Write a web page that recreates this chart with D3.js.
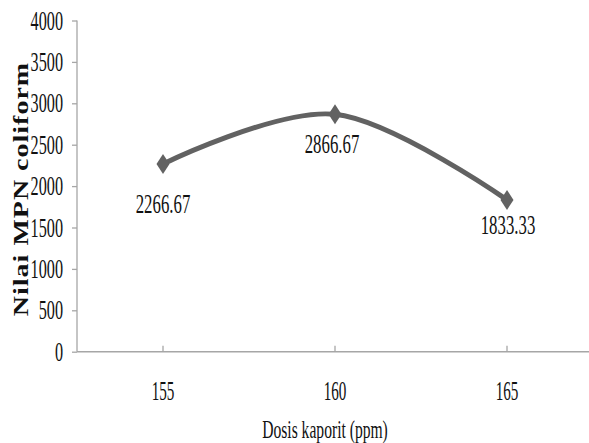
<!DOCTYPE html>
<html>
<head>
<meta charset="utf-8">
<script src="https://cdn.jsdelivr.net/npm/d3@7"></script>
<style>
  html, body { margin: 0; padding: 0; background: #fff; }
  svg { display: block; }
  text { font-family: "Liberation Serif", "Times New Roman", serif; fill: #111; }
</style>
</head>
<body>
<script>
// Chlorine dose (ppm) versus MPN coliform count
const doses = ["155", "160", "165"];
const mpnValues = [2266.67, 2866.67, 1833.33];
const yTickValues = [0, 500, 1000, 1500, 2000, 2500, 3000, 3500, 4000];
const xTitle = "Dosis kaporit (ppm)";
const yTitle = "Nilai MPN coliform";

const W = 589, H = 443;
const svg = d3.select("body").append("svg").attr("width", W).attr("height", H);

const plot = { left: 77, top: 20.5, bottom: 351.7, right: 593 };
const squeeze = 0.6;   // narrow, condensed lettering

const x = d3.scaleBand().domain(doses).range([plot.left, plot.right]).padding(0);
const xc = d => x(d) + x.bandwidth() / 2;
const y = d3.scaleLinear().domain([0, 4000]).range([plot.bottom, plot.top]);

const axisColor = "#a6a6a6";

// Y axis: line with outward ticks
const yAxis = svg.append("g").attr("transform", `translate(${plot.left},0)`)
  .call(d3.axisLeft(y).tickValues(yTickValues).tickSize(5).tickFormat(""));
yAxis.select(".domain").attr("stroke", axisColor).attr("stroke-width", 1.3).attr("d", `M0,${plot.top}V${plot.bottom}`);
yAxis.selectAll(".tick line").attr("stroke", axisColor).attr("stroke-width", 1.3);

// Y tick labels
svg.append("g").selectAll("text").data(yTickValues).join("text")
  .attr("transform", d => `translate(63,${y(d) + 9}) scale(${squeeze},1)`)
  .attr("text-anchor", "end")
  .style("font-size", "27px")
  .text(d => d);

// X axis: line with inward ticks at category centres
const xAxis = svg.append("g").attr("transform", `translate(0,${plot.bottom})`);
xAxis.append("line").attr("x1", plot.left).attr("x2", W).attr("y1", 0).attr("y2", 0)
  .attr("stroke", axisColor).attr("stroke-width", 1.5);
xAxis.selectAll("line.tick").data(doses).join("line").attr("class", "tick")
  .attr("x1", d => xc(d)).attr("x2", d => xc(d)).attr("y1", 0).attr("y2", -6)
  .attr("stroke", axisColor).attr("stroke-width", 1.3);

svg.append("g").selectAll("text").data(doses).join("text")
  .attr("transform", d => `translate(${xc(d)},${plot.bottom + 48}) scale(0.56,1)`)
  .attr("text-anchor", "middle")
  .style("font-size", "27px")
  .text(d => d);

// Axis titles
svg.append("text")
  .attr("transform", `translate(325,438) scale(${squeeze},1)`)
  .attr("text-anchor", "middle")
  .style("font-size", "26px")
  .text(xTitle);

svg.append("text")
  .attr("transform", `translate(28,189) scale(0.74,1) rotate(-90)`)
  .attr("text-anchor", "middle")
  .style("font-size", "28px")
  .style("font-weight", "bold")
  .style("letter-spacing", "1px")
  .text(yTitle);

// Smoothed line
const pts = doses.map((d, i) => [xc(d), y(mpnValues[i])]);
const line = d3.line().curve(d3.curveCatmullRom.alpha(0));
svg.append("path").attr("d", line(pts))
  .attr("fill", "none").attr("stroke", "#626262").attr("stroke-width", 5)
  .attr("stroke-linecap", "round");

// Diamond markers
svg.append("g").selectAll("path").data(pts).join("path")
  .attr("d", p => `M${p[0]},${p[1] - 10}L${p[0] + 6.5},${p[1]}L${p[0]},${p[1] + 10}L${p[0] - 6.5},${p[1]}Z`)
  .attr("fill", "#626262");

// Value labels below each point (small per-label nudges)
const labelNudge = [[0, 8], [-3, -2], [1, -7]];
svg.append("g").selectAll("text").data(mpnValues).join("text")
  .attr("transform", (v, i) => `translate(${xc(doses[i]) + labelNudge[i][0]},${y(v) + 41 + labelNudge[i][1]}) scale(${squeeze},1)`)
  .attr("text-anchor", "middle")
  .style("font-size", "28px")
  .text(v => v.toFixed(2));
</script>
</body>
</html>
